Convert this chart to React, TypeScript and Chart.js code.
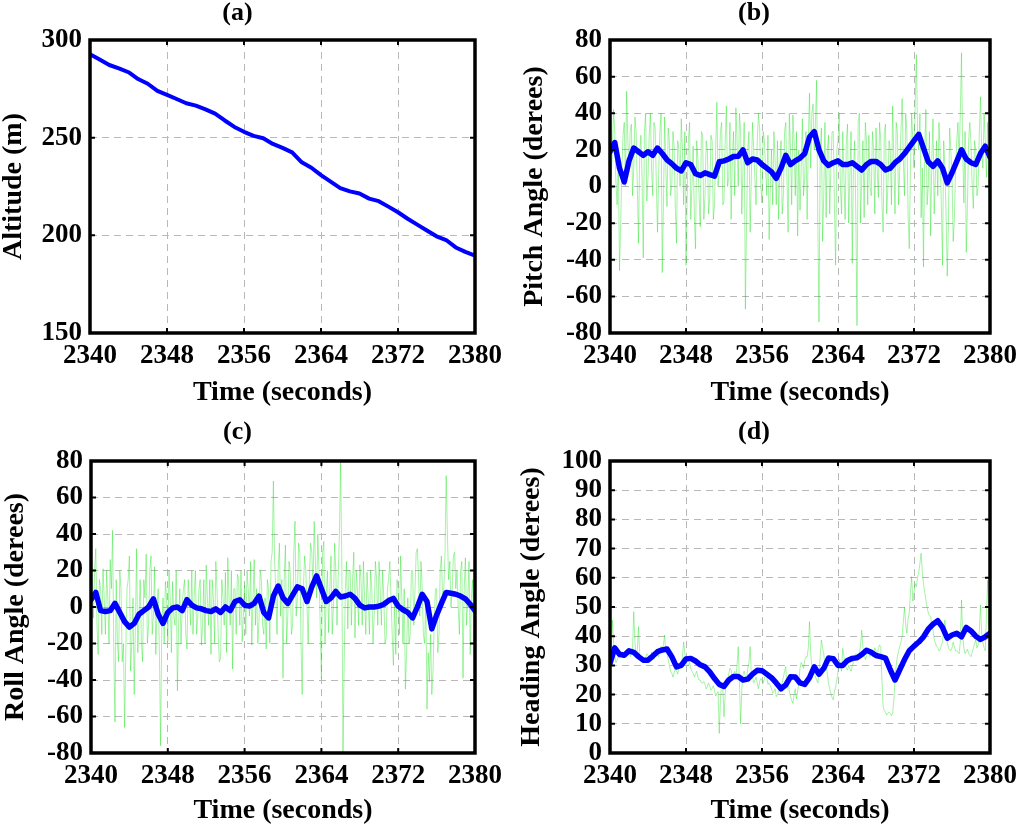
import React, { useEffect, useRef } from 'react';
import { Chart, registerables } from 'chart.js';

Chart.register(...registerables);

// ---------------- data ----------------
const T_START = 2340;
const T_END = 2380;
const RAW_STEP = 0.25; // s between raw (green) samples; *_MID arrays sit halfway between them
const FILT_STEP = 0.5; // s between filtered (blue) samples
const ALT_STEP = 1; // s between altitude samples

const X_TICKS = [2340, 2348, 2356, 2364, 2372, 2380];
const ALT_TICKS = [150, 200, 250, 300];
const ANGLE_TICKS = [-80, -60, -40, -20, 0, 20, 40, 60, 80];
const HEADING_TICKS = [0, 10, 20, 30, 40, 50, 60, 70, 80, 90, 100];

const ALTITUDE = [
  292.7, 290, 287.2, 285.5, 283.5, 280, 277.6, 274, 271.9, 269.8,
  267.6, 266.4, 264.5, 262.3, 258.8, 255.5, 253, 250.9, 249.7, 246.8,
  244.8, 242.5, 237.4, 234.6, 230.8, 227.5, 224.2, 222.5, 221.4, 218.8,
  217.5, 214.7, 211.8, 208.5, 205.5, 202.5, 199.5, 197.6, 193.8, 191.5,
  189.6,
];

const PITCH_RAW = [
  47, 20, 30, -10, -46, 10, 35, 52, 8, 34,
  10, 30, -31, 28, -39, 40, 5, 40, -5, 32,
  -25, 30, -47, 38, -11, 25, 0, 22, -31, 20,
  37, -10, -43, 25, -18, 22, -34, 15, -22, 28,
  -5, 20, -6, 25, -10, 46, 10, 35, -8, 44,
  5, -18, 30, 43, 0, 30, 10, -67, 20, -25,
  35, 5, 25, 32, -9, 25, -5, -29, 20, 30,
  -10, -18, 25, -5, 35, -25, 20, 39, -5, -27,
  -13, 37, 5, -18, 51, 40, 20, 58, -74, 32,
  -5, -17, 28, 10, 30, -43, 25, 0, 30, -18,
  34, 5, -42, 25, -76, 40, 5, -17, 25, 28,
  -5, 20, 32, -6, 25, -25, 34, 0, 20, 44,
  -15, 30, 10, 48, -5, 30, -34, 40, 10, 72,
  20, -17, -44, 42, 0, -27, 37, 5, -5, 20,
  -43, 10, -49, 32, 5, -18, 25, 15, 73, -9,
  -36, 25, 23, -12, 20, 0, 49, 10, 25, 35,
  -15,
];

const PITCH_MID = [
  5, 42, 2, 15, -20, 28, 0, 25, 30, -5,
  38, 0, 18, 5, 30, -8, 28, 10, 35, 2,
  8, 40, -10, 10, 32, -5, 30, -12, 25, 0,
  20, 30, -5, 35, 0, -15, 25, -5, 30, -18,
  25, -15, 28, -18, 20, 0, 30, -10, 25, 0,
  35, 15, -5, 25, 40, -15, 35, -20, 30, 5,
  20, -10, 40, 0, 30, 10, 28, 0, -10, 15,
  25, 10, -15, 30, 5, 40, -10, 25, 30, 20,
  10, -5, 30, 25, 10, 45, 35, -20, 20, -30,
  35, 20, -15, 30, -10, 20, 40, -15, 5, 25,
  -20, 30, 10, -15, 35, -20, 25, 35, -10, 0,
  30, -15, 10, 35, -10, 30, -15, 25, -10, 15,
  35, -10, 30, 15, 40, -15, 10, 25, 45, 30,
  40, 10, 20, -10, 30, 15, -15, 25, 35, -10,
  25, -15, -20, 20, -30, 10, 35, 40, 20, 30,
  -10, 35, 0, 25, -5, 30, 20, 40, 5, 0,
];

const PITCH_FILT = [
  19, 24, 10, 2.5, 14, 21, 19, 17, 19, 17,
  21, 18, 14.6, 12.5, 10, 8.5, 13, 12, 7, 6,
  7.5, 6.5, 5.7, 13.5, 14, 15, 16.4, 16.5, 20, 13,
  15, 14.5, 12, 10, 8, 4.5, 10, 17, 12, 14,
  15.5, 18, 27, 30, 20, 14, 11.5, 13, 14, 12,
  12, 13, 11, 9, 12, 13.7, 13.7, 12, 9, 10,
  13, 15, 18, 21.5, 25, 28.5, 21, 13.5, 11, 14,
  10, 2, 7.5, 13.7, 20, 15, 13, 12, 18, 22,
  16,
];

const ROLL_RAW = [
  25, -6, 32, -26, 10, 21, -15, 5, 26, 42,
  -63, -19, 20, -30, -66, 10, 28, -20, -48, 32,
  -5, -19, 15, 29, -10, 28, -5, -26, 10, -76,
  5, 14, -19, 5, 14, -10, -46, 10, 0, 15,
  -23, 5, 20, 6.5, -15, 10, -21, 15, 23, -10,
  -26, 5, 25, -15, -28, 5, 19, 27, -10, -34,
  10, 18, -10, -19, 12, 20, -5, -21, 26, 10,
  -8, 15, -15, -23, 10, 25, 69, 10, 20, -5,
  -39, 34, -5, 20, -10, 47, 5, 30, -48, 28,
  0, 15, 30, 47, 5, 20, -39, 36, 5, -14,
  28, 0, 20, 16, 79, -81, 10, -12, 20, 15,
  -17, 10, 23, -10, 5, 19, -15, 10, -5, 15,
  25, -10, 5, -17, 15, 5, -32, -26, 10, 28,
  -20, -45, 5, -15, 20, 10, 32, -5, 10, -20,
  -56, -41, -48, -10, 10, -15, 28, 10, 72, 15,
  0, 28, 10, 0, 20, -39, 27, 5, -26, 15,
  -8,
];

const ROLL_MID = [
  10, 20, -10, 15, -15, 5, 20, -20, 10, -25,
  15, -30, 10, -20, -25, 15, -35, 5, -10, -25,
  15, -30, 5, -20, 20, -15, 22, 0, -25, -10,
  -20, 5, 20, -25, -5, 20, -10, -20, 10, -15,
  15, -10, -15, 20, -5, 15, -10, -20, 5, 15,
  15, -20, 10, -30, 15, -10, -25, 5, 20, 10,
  -15, 15, 20, -5, -15, 10, 25, 5, -10, -20,
  20, -10, 5, 15, -20, 30, 25, -15, 35, 15,
  15, -20, 25, -15, 30, -5, 35, -20, 10, 20,
  -20, 35, 10, 25, 40, -10, 30, -20, 20, 10,
  -15, 35, -10, 40, 25, -30, 25, 20, -10, 30,
  20, -10, 15, 25, -15, 5, 20, -20, 25, -10,
  10, 20, -20, 10, 25, -15, 5, 15, -15, 5,
  10, -25, -20, 20, -10, 30, 15, 25, -15, 5,
  -25, -15, -35, 10, -25, 20, 5, 30, 40, 25,
  10, 30, 20, -15, 25, 10, -10, 25, 5, -20,
];

const ROLL_FILT = [
  4, 8, -2, -2.5, -2, 2, -3, -8, -11, -9,
  -4, -2, 0, 4.5, -4, -9, -3, -0.5, 0, -2,
  4, 1, -0.5, -1, -2, -2.5, -1, -3, 0, -2,
  3, 4, 1, 0.5, 2, 6, -3, -6, 6, 11.5,
  5, 2, 6.5, 11, 10, 3, 11, 17, 10, 3,
  5, 8.5, 5.5, 6, 7, 4.7, 1, -0.5, 0, 0,
  0.5, 1.5, 3.5, 4.7, 0.5, -1.5, -3, -6, 0, 7,
  3, -12, -4.5, 2, 8, 7.5, 7, 6, 4.5, 1.5,
  -2,
];

const HEADING_RAW = [
  29.6, 45.5, 33, 31.8, 32.5, 34, 33.5, 35, 36, 34,
  48.4, 33.5, 43.3, 31.8, 32, 32.5, 33.5, 32, 33, 33.5,
  34, 35, 36, 40.4, 34, 30, 27.3, 27.5, 28, 29,
  29.6, 38, 32, 30, 29, 27.3, 27, 26, 25, 23.9,
  23.5, 22.7, 23, 22.1, 21.5, 20.4, 6.7, 24, 12.4, 25,
  27, 28.4, 27, 26, 36.4, 10, 27, 26, 29, 36.4,
  26, 25, 23.9, 24.5, 25, 25.5, 26, 24, 22.1, 21,
  19.3, 21, 23, 26, 29.6, 25, 19.3, 17, 22, 21,
  29, 30, 31.8, 33, 45, 30, 28, 25, 27, 38.7,
  34, 31, 24, 20.4, 18.2, 22.7, 28, 30, 35.8, 30,
  28.4, 29, 30, 32, 33, 34, 42.1, 34, 33, 34,
  34.5, 33.5, 35, 35.8, 36.4, 15.9, 14, 13.6, 13.6, 13.6,
  25, 33, 36.4, 40, 50, 41, 48, 60.4, 55, 57,
  62, 68.4, 58, 52.4, 48, 46.7, 42, 37.6, 36, 35.3,
  38, 45.5, 38, 35.3, 36, 36.4, 35, 34, 52.4, 36,
  34.7, 34, 33, 36, 38.7, 37, 50.7, 38, 35, 59.2,
  38.7,
];

const HEADING_MID = [
  35, 38, 31, 33, 34, 32.5, 35, 34, 33, 36,
  38, 35, 34, 33, 31, 34, 32, 34.5, 32, 35,
  33, 36.5, 37, 35, 32, 28, 26, 29, 27, 31,
  33, 34, 30, 31, 28, 26, 28, 25, 24, 24.5,
  22, 24, 21.5, 23, 19.5, 21, 18, 22, 20, 24,
  29, 26, 28, 30, 24, 22, 28, 25, 31, 27,
  24, 26, 22, 25.5, 24, 27, 23.5, 23, 20.5, 22,
  20, 22.5, 24, 28, 22, 21, 18, 20, 18.5, 24,
  31, 29, 33, 36, 34, 29, 26, 24, 33, 36,
  30, 27, 22, 19, 21, 25, 32, 28, 33, 29,
  30, 28, 31, 34, 32, 37, 36, 32, 35, 33,
  33, 36, 34, 37, 25, 14.5, 13, 14, 12.8, 18,
  30, 35, 38, 45, 44, 46, 55, 52, 58, 60,
  65, 62, 55, 50, 47, 44, 39, 36.5, 35, 37,
  42, 40, 36, 35, 38, 35, 34.5, 38, 40, 34,
  35.5, 33.5, 34.5, 37.5, 36, 42, 41, 36, 47, 45,
];

const HEADING_FILT = [
  30.7, 36, 33.8, 33.5, 35, 34.5, 33, 31.8, 31.8, 33.2,
  34.7, 35.3, 35.6, 33, 29.5, 30, 32.2, 32.4, 31.5, 30.2,
  29.5, 27.8, 25.5, 23.5, 22.8, 25, 26.2, 26.2, 25, 25.3,
  27, 28.3, 28.2, 27, 25.8, 24, 22, 23.3, 26.1, 26,
  24, 23.5, 25.8, 29.5, 27, 29, 32.5, 32.3, 30, 30,
  31.7, 32.4, 32.6, 33.7, 35.2, 34.5, 33.4, 33, 32.5, 28.5,
  25, 28.5, 32, 35, 36.6, 38, 39.8, 42.4, 44.1, 45.3,
  43, 39.3, 40.4, 41, 39.8, 43, 41.8, 40, 38.9, 39.8,
  41,
];

// ---------------- styling ----------------
const FONT_FAMILY = "'Liberation Serif', 'Times New Roman', Times, serif";
const BLUE = '#0000ff';
const GREEN = 'rgba(0, 220, 0, 0.45)';
const GRID = '#b8b8b8';
const TICK_SIZE = 27;
const AXIS_TITLE_SIZE = 28;
const PANEL_TITLE_SIZE = 26;

const toPoints = (values: number[], step: number) =>
  values.map((v, i) => ({ x: T_START + i * step, y: v }));

// raw samples on the RAW_STEP grid, mid samples halfway between them
const toRawPoints = (onGrid: number[], mid: number[]) => {
  const pts: { x: number; y: number }[] = [];
  onGrid.forEach((v, i) => {
    pts.push({ x: T_START + i * RAW_STEP, y: v });
    if (i < mid.length) pts.push({ x: T_START + (i + 0.5) * RAW_STEP, y: mid[i] });
  });
  return pts;
};

const framePlugin = {
  id: 'frame',
  afterDraw(chart: any) {
    const { ctx, chartArea: a, scales } = chart;
    ctx.save();
    ctx.strokeStyle = '#000';
    ctx.lineWidth = 2;
    const tl = 5;
    scales.x.ticks.forEach((t: any) => {
      const px = scales.x.getPixelForValue(t.value);
      ctx.beginPath();
      ctx.moveTo(px, a.bottom);
      ctx.lineTo(px, a.bottom - tl);
      ctx.moveTo(px, a.top);
      ctx.lineTo(px, a.top + tl);
      ctx.stroke();
    });
    scales.y.ticks.forEach((t: any) => {
      const py = scales.y.getPixelForValue(t.value);
      ctx.beginPath();
      ctx.moveTo(a.left, py);
      ctx.lineTo(a.left + tl, py);
      ctx.moveTo(a.right, py);
      ctx.lineTo(a.right - tl, py);
      ctx.stroke();
    });
    ctx.lineWidth = 3.5;
    ctx.strokeRect(a.left, a.top, a.right - a.left, a.bottom - a.top);
    ctx.restore();
  },
};

type Series = { data: { x: number; y: number }[]; color: string; width: number };
type PanelCfg = {
  left: number;
  top: number;
  width: number;
  height: number;
  title: string;
  yTitle: string;
  yMin: number;
  yMax: number;
  yTicks: number[];
  plot: { left: number; top: number; right: number; bottom: number };
  titlePadTop: number;
  yTitlePad: number;
  xTitlePad: number;
  series: Series[];
};

const PANELS: PanelCfg[] = [
  {
    left: 0, top: 0, width: 512, height: 413,
    title: '(a)', yTitle: 'Altitude (m)',
    yMin: 150, yMax: 300, yTicks: ALT_TICKS,
    plot: { left: 90, top: 40, right: 475, bottom: 333 },
    titlePadTop: 0, yTitlePad: 0, xTitlePad: 6,
    series: [{ data: toPoints(ALTITUDE, ALT_STEP), color: BLUE, width: 4 }],
  },
  {
    left: 512, top: 0, width: 512, height: 413,
    title: '(b)', yTitle: 'Pitch Angle (derees)',
    yMin: -80, yMax: 80, yTicks: ANGLE_TICKS,
    plot: { left: 98, top: 40, right: 484, bottom: 333 },
    titlePadTop: 0, yTitlePad: 9, xTitlePad: 6,
    series: [
      { data: toPoints(PITCH_FILT, FILT_STEP), color: BLUE, width: 5.5 },
      { data: toRawPoints(PITCH_RAW, PITCH_MID), color: GREEN, width: 0.8 },
    ],
  },
  {
    left: 0, top: 413, width: 512, height: 413,
    title: '(c)', yTitle: 'Roll Angle (derees)',
    yMin: -80, yMax: 80, yTicks: ANGLE_TICKS,
    plot: { left: 91, top: 48, right: 475, bottom: 340 },
    titlePadTop: 6, yTitlePad: 2, xTitlePad: 1,
    series: [
      { data: toPoints(ROLL_FILT, FILT_STEP), color: BLUE, width: 5.5 },
      { data: toRawPoints(ROLL_RAW, ROLL_MID), color: GREEN, width: 0.8 },
    ],
  },
  {
    left: 512, top: 413, width: 512, height: 413,
    title: '(d)', yTitle: 'Heading Angle (derees)',
    yMin: 0, yMax: 100, yTicks: HEADING_TICKS,
    plot: { left: 98, top: 48, right: 484, bottom: 340 },
    titlePadTop: 6, yTitlePad: 6, xTitlePad: 1,
    series: [
      { data: toPoints(HEADING_FILT, FILT_STEP), color: BLUE, width: 5.5 },
      { data: toRawPoints(HEADING_RAW, HEADING_MID), color: GREEN, width: 0.8 },
    ],
  },
];

function Panel({ cfg }: { cfg: PanelCfg }) {
  const ref = useRef<HTMLCanvasElement | null>(null);

  useEffect(() => {
    if (!ref.current) return;
    const tickFont = { family: FONT_FAMILY, size: TICK_SIZE, weight: 'bold' as const };
    const titleFont = { family: FONT_FAMILY, size: AXIS_TITLE_SIZE, weight: 'bold' as const, lineHeight: 1 };
    const chart = new Chart(ref.current, {
      type: 'line',
      data: {
        datasets: cfg.series.map((s) => ({
          data: s.data,
          borderColor: s.color,
          borderWidth: s.width,
          pointRadius: 0,
          tension: 0,
          fill: false,
          borderJoinStyle: 'round' as const,
          borderCapStyle: 'round' as const,
        })),
      },
      options: {
        animation: false,
        responsive: false,
        events: [],
        layout: {
          padding: { left: 0, top: 0, right: cfg.width - cfg.plot.right, bottom: 0 },
        },
        plugins: {
          legend: { display: false },
          tooltip: { enabled: false },
          title: {
            display: true,
            text: cfg.title,
            color: '#000',
            font: { family: FONT_FAMILY, size: PANEL_TITLE_SIZE, weight: 'bold', lineHeight: 1 },
            padding: {
              top: cfg.titlePadTop,
              bottom: cfg.plot.top - PANEL_TITLE_SIZE - cfg.titlePadTop,
            },
          },
        },
        scales: {
          x: {
            type: 'linear',
            min: T_START,
            max: T_END,
            afterBuildTicks: (s: any) => {
              s.ticks = X_TICKS.map((v) => ({ value: v }));
            },
            afterFit: (s: any) => {
              s.height = cfg.height - cfg.plot.bottom;
            },
            ticks: {
              callback: (v: any) => String(v),
              font: tickFont,
              color: '#000',
              padding: 7,
              maxRotation: 0,
              autoSkip: false,
            },
            grid: { drawTicks: false, color: GRID, lineWidth: 1 },
            border: { display: false, dash: [7, 5] },
            title: {
              display: true,
              text: 'Time (seconds)',
              color: '#000',
              font: titleFont,
              padding: { top: 0, bottom: cfg.xTitlePad },
            },
          },
          y: {
            type: 'linear',
            min: cfg.yMin,
            max: cfg.yMax,
            afterBuildTicks: (s: any) => {
              s.ticks = cfg.yTicks.map((v) => ({ value: v }));
            },
            afterFit: (s: any) => {
              s.width = cfg.plot.left;
            },
            ticks: {
              callback: (v: any) => String(v),
              font: tickFont,
              color: '#000',
              padding: 8,
              autoSkip: false,
            },
            grid: { drawTicks: false, color: GRID, lineWidth: 1 },
            border: { display: false, dash: [7, 5] },
            title: {
              display: true,
              text: cfg.yTitle,
              color: '#000',
              font: titleFont,
              padding: { top: cfg.yTitlePad, bottom: 0 },
            },
          },
        },
      } as any,
      plugins: [framePlugin],
    });
    return () => chart.destroy();
  }, [cfg]);

  return (
    <div
      style={{
        position: 'absolute',
        left: cfg.left,
        top: cfg.top,
        width: cfg.width,
        height: cfg.height,
      }}
    >
      <canvas
        ref={ref}
        width={cfg.width}
        height={cfg.height}
        style={{ width: cfg.width, height: cfg.height, display: 'block' }}
      />
    </div>
  );
}

export default function App() {
  return (
    <div
      style={{
        position: 'absolute',
        left: 0,
        top: 0,
        width: 1024,
        height: 826,
        background: '#fff',
        overflow: 'hidden',
      }}
    >
      {PANELS.map((p) => (
        <Panel key={p.title} cfg={p} />
      ))}
    </div>
  );
}
